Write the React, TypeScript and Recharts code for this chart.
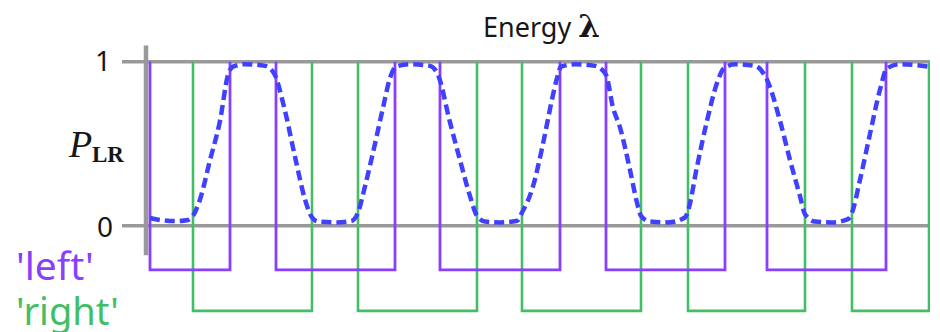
import { LineChart, Line, XAxis, YAxis, ReferenceLine } from "recharts";

// ─── Data (energy λ in arbitrary units) ─────────────────────────────────────

// 'left' square wave: intervals where the signal is low
const leftLow: [number, number][] = [
  [0, 8.0],
  [12.6, 24.5],
  [29.0, 41.0],
  [45.6, 57.5],
  [61.7, 73.6],
];

// 'right' square wave: intervals where the signal is low
const rightLow: [number, number][] = [
  [4.3, 16.2],
  [20.8, 32.7],
  [37.2, 49.1],
  [53.8, 65.5],
  [70.2, 77.9],
];

const LEFT_LEVEL = -0.27;
const RIGHT_LEVEL = -0.52;

// P_LR curve
const energy = [
  0, 1, 2.5, 3.8, 4.3, 5, 6, 7, 7.8, 8.3, 9.5, 11.5, 12.4, 13.5, 14.5, 15.5,
  16.1, 16.8, 18.5, 20.2, 20.8, 21.5, 22.5, 23.3, 24.0, 24.6, 26, 28, 28.8,
  30, 31, 32, 32.7, 33.5, 35, 36.7, 37.2, 38.3, 39.3, 40.2, 40.7, 41.1, 42.5,
  44.5, 45.6, 46.3, 47, 48, 48.7, 49.1, 50, 51.8, 53.5, 53.8, 54.7, 55.7,
  56.7, 57.4, 58.5, 60.5, 61.7, 63, 64, 65, 65.5, 66.5, 68.2, 69.8, 70.2, 71,
  72, 73, 73.7, 75, 76.5, 77.9,
];
const pLR = [
  0.047, 0.035, 0.028, 0.035, 0.06, 0.16, 0.4, 0.64, 0.92, 0.97, 0.985, 0.975,
  0.93, 0.7, 0.42, 0.16, 0.06, 0.025, 0.02, 0.03, 0.08, 0.24, 0.5, 0.72, 0.9,
  0.97, 0.985, 0.975, 0.92, 0.63, 0.4, 0.18, 0.06, 0.025, 0.02, 0.03, 0.08,
  0.24, 0.5, 0.77, 0.9, 0.97, 0.985, 0.975, 0.92, 0.72, 0.6, 0.34, 0.14, 0.06,
  0.025, 0.02, 0.05, 0.09, 0.36, 0.64, 0.87, 0.96, 0.985, 0.975, 0.89, 0.64,
  0.4, 0.18, 0.07, 0.025, 0.02, 0.04, 0.08, 0.28, 0.56, 0.83, 0.96, 0.985,
  0.98, 0.97,
];

// ─── Helpers ────────────────────────────────────────────────────────────────

// U-shaped pieces (no top segment), separated by null gaps
function squareWave(lows: [number, number][], level: number) {
  const out: { x: number; y: number | null }[] = [];
  lows.forEach(([a, b], i) => {
    if (i > 0) out.push({ x: (lows[i - 1][1] + a) / 2, y: null });
    out.push({ x: a, y: 1 }, { x: a, y: level }, { x: b, y: level }, { x: b, y: 1 });
  });
  return out;
}

const leftData = squareWave(leftLow, LEFT_LEVEL);
const rightData = squareWave(rightLow, RIGHT_LEVEL);
const curveData = energy.map((x, i) => ({ x, y: pLR[i] }));

const PURPLE = "#8a3ffc";
const GREEN = "#42be65";
const BLUE = "#4040ff";
const GRAY = "#999999";
const INK = "#161616";

export default function App() {
  return (
    <div
      style={{
        position: "absolute",
        left: 0,
        top: 0,
        width: 940,
        height: 332,
        background: "#fff",
        overflow: "hidden",
      }}
    >
      <LineChart
        width={940}
        height={332}
        margin={{ top: 29, right: 10, left: 122, bottom: 8 }}
      >
        <XAxis
          type="number"
          dataKey="x"
          domain={[-2.8, 78]}
          allowDataOverflow
          hide
        />
        <YAxis
          type="number"
          domain={[-0.6, 1.2]}
          allowDataOverflow
          hide
        />

        <ReferenceLine y={1} stroke={GRAY} strokeWidth={3.5} />
        <ReferenceLine y={0} stroke={GRAY} strokeWidth={3.5} />
        <ReferenceLine
          segment={[
            { x: -0.4, y: -0.18 },
            { x: -0.4, y: 1.1 },
          ]}
          stroke={GRAY}
          strokeWidth={4.5}
        />

        <Line
          data={rightData}
          dataKey="y"
          type="linear"
          stroke={GREEN}
          strokeWidth={2.6}
          dot={false}
          activeDot={false}
          isAnimationActive={false}
        />
        <Line
          data={leftData}
          dataKey="y"
          type="linear"
          stroke={PURPLE}
          strokeWidth={2.8}
          dot={false}
          activeDot={false}
          isAnimationActive={false}
        />
        <Line
          data={curveData}
          dataKey="y"
          type="monotone"
          stroke={BLUE}
          strokeWidth={4.5}
          strokeDasharray="10 5"
          dot={false}
          activeDot={false}
          isAnimationActive={false}
        />
      </LineChart>

      {/* Labels */}
      <svg
        width={940}
        height={332}
        style={{ position: "absolute", left: 0, top: 0, pointerEvents: "none" }}
      >
        <text x={483} y={37} fontFamily="Noto Sans" fontSize={27} fill={INK}>
          Energy{" "}
          <tspan fontWeight="bold" fontFamily="DejaVu Serif" fontSize={31}>
            λ
          </tspan>
        </text>
        <text x={111} y={71} textAnchor="end" fontFamily="Noto Sans" fontSize={28} fill={INK}>
          1
        </text>
        <text x={113} y={237} textAnchor="end" fontFamily="Noto Sans" fontSize={28} fill={INK}>
          0
        </text>
        <text x={69} y={157} fontFamily="Liberation Serif" fontStyle="italic" fontSize={38} fill={INK}>
          P
        </text>
        <text x={92} y={162} fontFamily="Liberation Serif" fontWeight="bold" fontSize={23} fill={INK}>
          LR
        </text>
        <text x={16} y={280} fontFamily="Noto Sans" fontSize={39} fill={PURPLE}>
          'left'
        </text>
        <text x={16} y={325} fontFamily="Noto Sans" fontSize={38} fill={GREEN}>
          'right'
        </text>
      </svg>
    </div>
  );
}
